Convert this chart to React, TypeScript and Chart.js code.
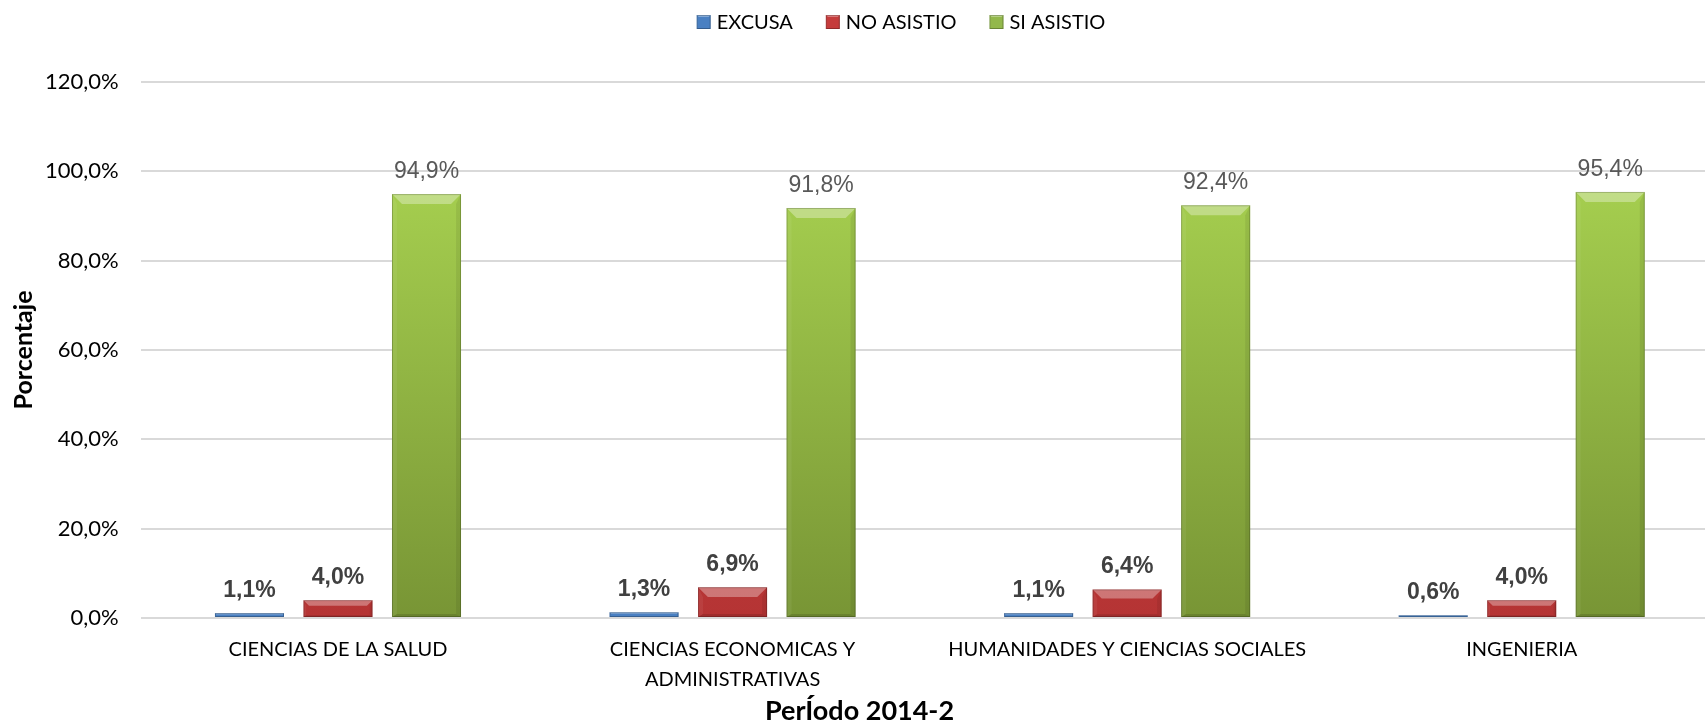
import React, { useEffect, useRef } from 'react';
import { Chart, registerables } from 'chart.js';

Chart.register(...registerables);

const categories: string[][] = [
  ['CIENCIAS DE LA SALUD'],
  ['CIENCIAS ECONOMICAS Y', 'ADMINISTRATIVAS'],
  ['HUMANIDADES Y CIENCIAS SOCIALES'],
  ['INGENIERIA'],
];
const seriesNames = ['EXCUSA', 'NO ASISTIO', 'SI ASISTIO'];
const excusa = [1.1, 1.3, 1.1, 0.6];
const noAsistio = [4.0, 6.9, 6.4, 4.0];
const siAsistio = [94.9, 91.8, 92.4, 95.4];
const yMin = 0;
const yMax = 120;
const yStep = 20;
const yTitle = 'Porcentaje';
const xTitle = 'PerÍodo 2014-2';

const seriesColors = ['#4a80c2', '#c53c3c', '#93b84c'];

const fmt = (v: number) => v.toFixed(1).replace('.', ',') + '%';

const CALIBRI = 'Lato, "Open Sans", sans-serif';
const ARIAL = '"Liberation Sans", Arial, sans-serif';

function poly(ctx: CanvasRenderingContext2D, pts: number[][], fill: string) {
  ctx.beginPath();
  ctx.moveTo(pts[0][0], pts[0][1]);
  for (let i = 1; i < pts.length; i++) ctx.lineTo(pts[i][0], pts[i][1]);
  ctx.closePath();
  ctx.fillStyle = fill;
  ctx.fill();
}

function bevelRect(ctx: CanvasRenderingContext2D, L: number, T: number, R: number, B: number, maxS: number) {
  const w = R - L;
  const h = B - T;
  const s = Math.max(0, Math.min(maxS, h * 0.33, w * 0.15));
  poly(ctx, [[L, T], [R, T], [R - s, T + s], [L + s, T + s]], 'rgba(255,255,255,0.32)');
  poly(ctx, [[L, T], [L + s * 0.5, T + s], [L + s * 0.5, B - s * 0.3], [L, B]], 'rgba(255,255,255,0.06)');
  poly(ctx, [[R, T], [R, B], [R - s * 0.5, B - s * 0.3], [R - s * 0.5, T + s]], 'rgba(0,0,0,0.07)');
  poly(ctx, [[L, B], [L + s * 0.5, B - s * 0.3], [R - s * 0.5, B - s * 0.3], [R, B]], 'rgba(0,0,0,0.12)');
  ctx.strokeStyle = 'rgba(0,0,0,0.2)';
  ctx.lineWidth = 1;
  ctx.strokeRect(L + 0.5, T + 0.5, Math.max(0, w - 1), Math.max(0, h - 1));
}

const barDecor = {
  id: 'barDecor',
  afterDatasetsDraw(chart: any) {
    const ctx: CanvasRenderingContext2D = chart.ctx;
    chart.data.datasets.forEach((ds: any, di: number) => {
      const meta = chart.getDatasetMeta(di);
      meta.data.forEach((el: any, i: number) => {
        const { x, y, base, width } = el.getProps(['x', 'y', 'base', 'width'], true);
        const L = x - width / 2;
        const R = x + width / 2;
        const T = Math.min(y, base);
        const B = Math.max(y, base);
        ctx.save();
        bevelRect(ctx, L, T, R, B, 10);
        const v = ds.data[i] as number;
        if (di < 2) {
          ctx.font = 'bold 23px ' + ARIAL;
          ctx.fillStyle = '#404040';
        } else {
          ctx.font = '23px ' + ARIAL;
          ctx.fillStyle = '#595959';
        }
        ctx.textAlign = 'center';
        ctx.textBaseline = 'alphabetic';
        ctx.fillText(fmt(v), x, T - 16);
        ctx.restore();
      });
    });
  },
};

const customLegend = {
  id: 'customLegend',
  afterDraw(chart: any) {
    const ctx: CanvasRenderingContext2D = chart.ctx;
    ctx.save();
    ctx.font = '20px ' + CALIBRI;
    const box = 14;
    const gapText = 6;
    const gapItem = 33;
    const widths = seriesNames.map((n) => box + gapText + ctx.measureText(n).width);
    const total = widths.reduce((a, b) => a + b, 0) + gapItem * (seriesNames.length - 1);
    let x = chart.width / 2 + 41 - total / 2;
    const cy = 22;
    seriesNames.forEach((n, i) => {
      ctx.fillStyle = seriesColors[i];
      ctx.fillRect(x, cy - 7, box, box);
      bevelRect(ctx, x, cy - 7, x + box, cy + 7, 4);
      ctx.fillStyle = '#000';
      ctx.textAlign = 'left';
      ctx.textBaseline = 'middle';
      ctx.fillText(n, x + box + gapText, cy + 1);
      x += widths[i] + gapItem;
    });
    ctx.restore();
  },
};

function gradient(top: string, bottom: string) {
  return (c: any) => {
    const chart = c.chart;
    const area = chart.chartArea;
    if (!area) return top;
    const g = chart.ctx.createLinearGradient(0, area.top, 0, area.bottom);
    g.addColorStop(0, top);
    g.addColorStop(1, bottom);
    return g;
  };
}

export default function App() {
  const ref = useRef<HTMLCanvasElement | null>(null);

  useEffect(() => {
    if (!ref.current) return;
    const chart = new Chart(ref.current, {
      type: 'bar',
      data: {
        labels: categories,
        datasets: [
          { label: seriesNames[0], data: excusa, backgroundColor: '#4a80c2', borderWidth: 0 },
          { label: seriesNames[1], data: noAsistio, backgroundColor: gradient('#d34646', '#b53434'), borderWidth: 0 },
          { label: seriesNames[2], data: siAsistio, backgroundColor: gradient('#b0dc55', '#789535'), borderWidth: 0 },
        ],
      },
      plugins: [barDecor, customLegend],
      options: {
        responsive: false,
        animation: false,
        layout: { padding: { top: 82, left: 0, right: 1, bottom: 1 } },
        datasets: {
          bar: { categoryPercentage: 0.673, barPercentage: 0.78 },
        },
        plugins: {
          legend: { display: false },
          tooltip: { enabled: false },
          title: {
            display: true,
            position: 'bottom',
            text: xTitle,
            color: '#000',
            font: { family: CALIBRI, size: 27, weight: 'bold', lineHeight: 1.0 },
            padding: { top: 0, bottom: 0 },
          },
        },
        scales: {
          x: {
            grid: { display: false, drawTicks: false },
            border: { display: false },
            ticks: {
              color: '#000',
              font: { family: CALIBRI, size: 20, lineHeight: 1.5 },
              padding: 17,
              maxRotation: 0,
              autoSkip: false,
            },
            afterFit: (scale: any) => {
              scale.height = 80;
            },
          },
          y: {
            min: yMin,
            max: yMax,
            grid: { color: '#d9d9d9', lineWidth: 2, drawTicks: false },
            border: { display: false },
            ticks: {
              stepSize: yStep,
              color: '#000',
              font: { family: CALIBRI, size: 22 },
              padding: 22,
              callback: (v: any) => fmt(Number(v)),
            },
            title: {
              display: true,
              text: yTitle,
              color: '#000',
              font: { family: CALIBRI, size: 25, weight: 'bold', lineHeight: 1.2 },
              padding: { top: 9, bottom: 0 },
            },
            afterFit: (scale: any) => {
              scale.width = 140.7;
            },
          },
        },
      },
    } as any);
    return () => chart.destroy();
  }, []);

  return (
    <div style={{ position: 'absolute', left: 0, top: 0, width: 1705, height: 726, overflow: 'hidden', background: '#fff' }}>
      <canvas ref={ref} width={1720} height={726} style={{ display: 'block', width: 1720, height: 726 }} />
    </div>
  );
}
